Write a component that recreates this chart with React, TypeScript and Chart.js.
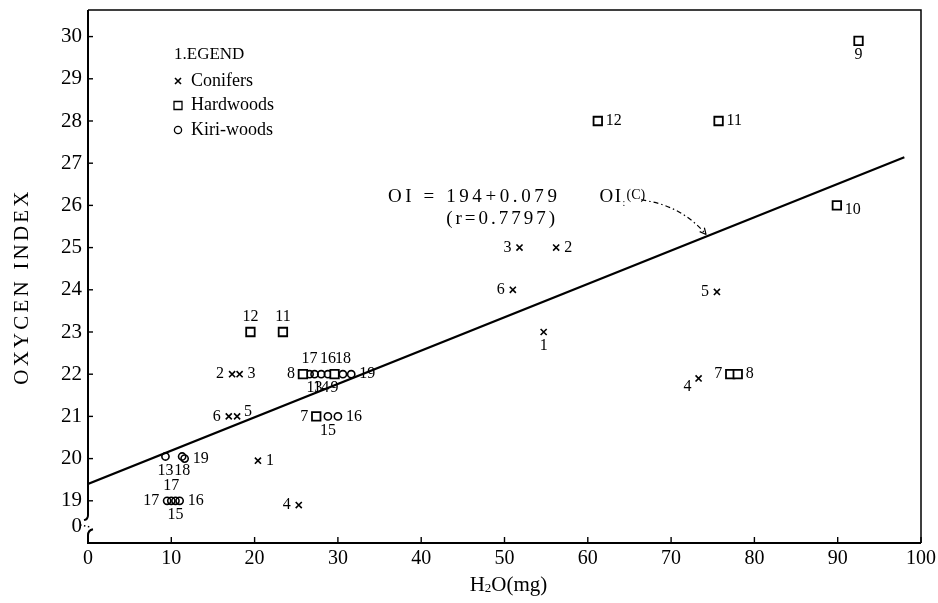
import React, { useEffect, useRef } from 'react';
import { Chart, registerables } from 'chart.js';

Chart.register(...registerables);

const X_TICKS = [0, 10, 20, 30, 40, 50, 60, 70, 80, 90, 100];
const Y_TICK_VALUES = [18.38, 19, 20, 21, 22, 23, 24, 25, 26, 27, 28, 29, 30];
const Y_TICK_LABELS = ['0', '19', '20', '21', '22', '23', '24', '25', '26', '27', '28', '29', '30'];

// Conifers (x marks)
const coniferX = [51.8, 56.2, 51.0, 54.7, 75.5, 73.3, 17.3, 18.2, 16.9, 17.9, 20.4, 25.3];
const coniferY = [25, 25, 24, 23, 23.95, 21.9, 22, 22, 21, 21, 19.95, 18.9];
const coniferIds = ['3', '2', '6', '1', '5', '4', '2', '3', '6', '5', '1', '4'];
const coniferSides = ['l', 'r', 'l', 'b', 'l', 'bl', 'l', 'r', 'l', 'tr', 'r', 'l'];

// Hardwoods (squares)
const hardwoodX = [61.2, 75.7, 92.5, 89.9, 77.1, 78.0, 19.5, 23.4, 25.8, 29.6, 27.4];
const hardwoodY = [28, 28, 29.9, 26.0, 22.0, 22.0, 23, 23, 22, 22, 21];
const hardwoodIds = ['12', '11', '9', '10', '7', '8', '12', '11', '8', '9', '7'];
const hardwoodSides = ['r', 'r', 'b', 'br', 'l', 'r', 't', 't', 'l', 'b', 'l'];

// Kiri-woods (circles)
const kiriX = [26.6, 27.2, 28.0, 28.8, 30.6, 31.6, 28.8, 30.0, 9.3, 11.3, 11.6, 10.0, 9.5, 11.0, 10.5];
const kiriY = [22, 22, 22, 22, 22, 22, 21, 21, 20.05, 20.05, 20.0, 19.0, 19.0, 19.0, 19.0];
const kiriIds = ['17', '13', '14', '16', '18', '19', '15', '16', '13', '18', '19', '17', '17', '16', '15'];
const kiriSides = ['t', 'b', 'b', 't', 't', 'r', 'b', 'r', 'b', 'b', 'r', 't', 'l', 'r', 'b'];

// Regression OI = 19.4 + 0.079 * H2O
const regIntercept = 19.4;
const regSlope = 0.079;
const regXRange = [0, 98];

const legendTitle = '1.EGEND';
const legendNames = ['Conifers', 'Hardwoods', 'Kiri-woods'];
const equationLine1 = 'OI = 194+0.079';
const equationLine2 = '(r=0.7797)';
const equationPos = { x: 36.0, y: 26.2 };
const equationPos2 = { x: 43.0, y: 25.68 };
const equationVarX = 61.4;
const arrowStart = { x: 66.4, y: 26.13 };
const arrowEndX = 74.2;

const FONT = '"Liberation Serif", "Times New Roman", serif';

function drawMarker(ctx: CanvasRenderingContext2D, kind: string, px: number, py: number) {
  ctx.beginPath();
  if (kind === 'x') {
    const s = 3;
    ctx.lineWidth = 1.6;
    ctx.moveTo(px - s, py - s); ctx.lineTo(px + s, py + s);
    ctx.moveTo(px + s, py - s); ctx.lineTo(px - s, py + s);
  } else if (kind === 'sq') {
    ctx.lineWidth = 1.3;
    ctx.rect(px - 4, py - 4, 8, 8);
  } else {
    ctx.lineWidth = 1.3;
    ctx.arc(px, py, 3.6, 0, Math.PI * 2);
  }
  ctx.stroke();
}

const decorPlugin = {
  id: 'decor',
  beforeDatasetsDraw(chart: any) {
    const { ctx, chartArea, scales } = chart;
    const { left, right, top, bottom } = chartArea;
    const x = scales.x, y = scales.y;
    ctx.save();
    ctx.strokeStyle = '#000';
    ctx.lineCap = 'butt';
    // top & right border
    ctx.lineWidth = 1.5;
    ctx.beginPath();
    ctx.moveTo(left, top); ctx.lineTo(right, top); ctx.lineTo(right, bottom);
    ctx.stroke();
    // bottom axis
    ctx.lineWidth = 2;
    ctx.beginPath();
    ctx.moveTo(left - 1, bottom); ctx.lineTo(right, bottom);
    ctx.stroke();
    // left axis with break
    const bTop = y.getPixelForValue(18.66);
    const bBot = y.getPixelForValue(18.28);
    ctx.beginPath();
    ctx.moveTo(left, top); ctx.lineTo(left, bTop);
    ctx.quadraticCurveTo(left, bTop + 4, left - 4, bTop + 5);
    ctx.stroke();
    ctx.beginPath();
    ctx.moveTo(left + 5, bBot - 2);
    ctx.quadraticCurveTo(left, bBot - 1, left, bBot + 4);
    ctx.lineTo(left, bottom);
    ctx.stroke();
    // inward ticks
    ctx.lineWidth = 1.4;
    Y_TICK_VALUES.forEach((v, i) => {
      const py = y.getPixelForValue(v);
      ctx.beginPath();
      if (i === 0) {
        ctx.setLineDash([1.5, 2.5]);
        ctx.moveTo(left - 8, py - 2); ctx.lineTo(left + 2, py);
        ctx.stroke();
        ctx.setLineDash([]);
      } else {
        ctx.moveTo(left, py); ctx.lineTo(left + 5, py);
        ctx.stroke();
      }
    });
    X_TICKS.forEach((v) => {
      if (v === 0) return;
      const px = x.getPixelForValue(v);
      ctx.beginPath();
      ctx.moveTo(px, bottom); ctx.lineTo(px, bottom - 6);
      ctx.stroke();
    });
    ctx.restore();
  },
  afterDatasetsDraw(chart: any) {
    const { ctx, chartArea, scales } = chart;
    const { left, top, bottom, right } = chartArea;
    const x = scales.x, y = scales.y;
    ctx.save();
    ctx.fillStyle = '#000';
    ctx.strokeStyle = '#000';
    // point labels
    ctx.font = `16px ${FONT}`;
    ctx.textBaseline = 'middle';
    chart.data.datasets.forEach((ds: any, di: number) => {
      if (!ds.ids) return;
      const meta = chart.getDatasetMeta(di);
      meta.data.forEach((el: any, i: number) => {
        const t = ds.ids[i];
        const side = ds.sides[i];
        let tx = el.x, ty = el.y, align: CanvasTextAlign = 'center';
        if (side === 'l') { tx -= 8; align = 'right'; }
        else if (side === 'r') { tx += 8; align = 'left'; }
        else if (side === 't') { ty -= 15; }
        else if (side === 'b') { ty += 14; }
        else if (side === 'bl') { tx -= 7; ty += 8; align = 'right'; }
        else if (side === 'br') { tx += 8; ty += 4; align = 'left'; }
        else if (side === 'tr') { tx += 7; ty -= 5; align = 'left'; }
        ctx.textAlign = align;
        ctx.fillText(t, tx, ty);
      });
    });
    // legend
    const lx = left + 86, ly = top + 45;
    ctx.textAlign = 'left';
    ctx.font = `17px ${FONT}`;
    ctx.fillText(legendTitle, lx, ly);
    ctx.font = `18px ${FONT}`;
    const kinds = ['x', 'sq', 'o'];
    legendNames.forEach((n, i) => {
      const yy = ly + 26 + i * 24.5;
      drawMarker(ctx, kinds[i], lx + 4, yy);
      ctx.fillText(n, lx + 17, yy);
    });
    // equation
    ctx.font = `19px ${FONT}`;
    (ctx as any).letterSpacing = '3.6px';
    ctx.textAlign = 'left';
    ctx.fillText(equationLine1, x.getPixelForValue(equationPos.x), y.getPixelForValue(equationPos.y));
    (ctx as any).letterSpacing = '3px';
    ctx.fillText(equationLine2, x.getPixelForValue(equationPos2.x), y.getPixelForValue(equationPos2.y));
    const vx = x.getPixelForValue(equationVarX), vy = y.getPixelForValue(equationPos.y);
    (ctx as any).letterSpacing = '1.5px';
    ctx.fillText('OI', vx, vy);
    const w = ctx.measureText('OI').width;
    ctx.font = `10px ${FONT}`;
    (ctx as any).letterSpacing = '0px';
    ctx.fillText(':', vx + w, vy + 6);
    ctx.font = `14px ${FONT}`;
    ctx.fillText('(C)', vx + w + 4, vy - 2);
    // arrow
    const p0x = x.getPixelForValue(arrowStart.x), p0y = y.getPixelForValue(arrowStart.y);
    const p1x = x.getPixelForValue(arrowEndX), p1y = y.getPixelForValue(regIntercept + regSlope * arrowEndX) - 2;
    const cx = p0x + 0.62 * (p1x - p0x), cy = p0y + 0.15 * (p1y - p0y);
    ctx.lineWidth = 1.2;
    ctx.setLineDash([5, 3, 1.5, 3]);
    ctx.beginPath();
    ctx.moveTo(p0x, p0y);
    ctx.quadraticCurveTo(cx, cy, p1x, p1y);
    ctx.stroke();
    ctx.setLineDash([]);
    const ang = Math.atan2(p1y - cy, p1x - cx);
    ctx.beginPath();
    ctx.moveTo(p1x, p1y);
    ctx.lineTo(p1x - 7 * Math.cos(ang - 0.45), p1y - 7 * Math.sin(ang - 0.45));
    ctx.moveTo(p1x, p1y);
    ctx.lineTo(p1x - 7 * Math.cos(ang + 0.45), p1y - 7 * Math.sin(ang + 0.45));
    ctx.stroke();
    // y title
    ctx.save();
    ctx.translate(22, (top + bottom) / 2 + 10);
    ctx.rotate(-Math.PI / 2);
    ctx.font = `21px ${FONT}`;
    (ctx as any).letterSpacing = '3.2px';
    ctx.textAlign = 'center';
    ctx.textBaseline = 'middle';
    ctx.fillText('OXYCEN INDEX', 0, 0);
    ctx.restore();
    // x title with subscript
    (ctx as any).letterSpacing = '0px';
    ctx.textBaseline = 'middle';
    ctx.textAlign = 'left';
    const big = `21px ${FONT}`, small = `13px ${FONT}`;
    ctx.font = big; const wH = ctx.measureText('H').width; const wR = ctx.measureText('O(mg)').width;
    ctx.font = small; const w2 = ctx.measureText('2').width;
    const total = wH + w2 + wR;
    let sx = (left + right) / 2 - total / 2 + 4;
    const sy = 585;
    ctx.font = big; ctx.fillText('H', sx, sy); sx += wH;
    ctx.font = small; ctx.fillText('2', sx, sy + 4); sx += w2;
    ctx.font = big; ctx.fillText('O(mg)', sx, sy);
    ctx.restore();
  },
};

export default function App() {
  const ref = useRef<HTMLCanvasElement>(null);
  useEffect(() => {
    document.body.style.margin = '0';
    const canvas = ref.current!;
    const pts = (xs: number[], ys: number[]) => xs.map((v, i) => ({ x: v, y: ys[i] }));
    const chart = new Chart(canvas, {
      type: 'scatter',
      data: {
        datasets: [
          {
            label: 'Regression',
            type: 'line',
            data: regXRange.map((v) => ({ x: v, y: regIntercept + regSlope * v })),
            borderColor: '#000',
            borderWidth: 2.2,
            pointRadius: 0,
            fill: false,
            tension: 0,
          } as any,
          {
            label: 'Conifers',
            data: pts(coniferX, coniferY),
            pointStyle: 'crossRot',
            pointRadius: 4.3,
            borderColor: '#000',
            backgroundColor: '#000',
            borderWidth: 1.6,
            ids: coniferIds,
            sides: coniferSides,
          } as any,
          {
            label: 'Hardwoods',
            data: pts(hardwoodX, hardwoodY),
            pointStyle: 'rect',
            pointRadius: 6,
            borderColor: '#000',
            backgroundColor: '#fff',
            borderWidth: 1.8,
            ids: hardwoodIds,
            sides: hardwoodSides,
          } as any,
          {
            label: 'Kiri-woods',
            data: pts(kiriX, kiriY),
            pointStyle: 'circle',
            pointRadius: 3.6,
            borderColor: '#000',
            backgroundColor: 'rgba(255,255,255,0)',
            borderWidth: 1.6,
            ids: kiriIds,
            sides: kiriSides,
          } as any,
        ],
      },
      options: {
        responsive: false,
        animation: false,
        layout: { padding: { top: 10, right: 17, left: 0, bottom: 0 } },
        plugins: { legend: { display: false }, tooltip: { enabled: false } },
        scales: {
          x: {
            type: 'linear',
            min: 0,
            max: 100,
            afterBuildTicks: (s: any) => { s.ticks = X_TICKS.map((v) => ({ value: v })); },
            ticks: { color: '#000', font: { family: FONT, size: 20 }, padding: 4, maxRotation: 0, autoSkip: false },
            grid: { display: false, drawTicks: false },
            border: { display: false },
            afterFit: (s: any) => { s.height = 60; s.paddingLeft = 0; s.paddingRight = 0; },
          },
          y: {
            type: 'linear',
            min: 18,
            max: 30.63,
            afterBuildTicks: (s: any) => { s.ticks = Y_TICK_VALUES.map((v) => ({ value: v })); },
            ticks: {
              color: '#000',
              font: { family: FONT, size: 21 },
              padding: 6,
              autoSkip: false,
              callback: (v: any) => {
                const i = Y_TICK_VALUES.indexOf(Number(v));
                return i >= 0 ? Y_TICK_LABELS[i] : '';
              },
            },
            grid: { display: false, drawTicks: false },
            border: { display: false },
            afterFit: (s: any) => { s.width = 88; s.paddingTop = 0; s.paddingBottom = 0; },
          },
        },
      } as any,
      plugins: [decorPlugin],
    });
    return () => chart.destroy();
  }, []);
  return (
    <div style={{ position: 'absolute', left: 0, top: 0, width: 938, height: 603, background: '#fff' }}>
      <canvas ref={ref} width={938} height={603} />
    </div>
  );
}
